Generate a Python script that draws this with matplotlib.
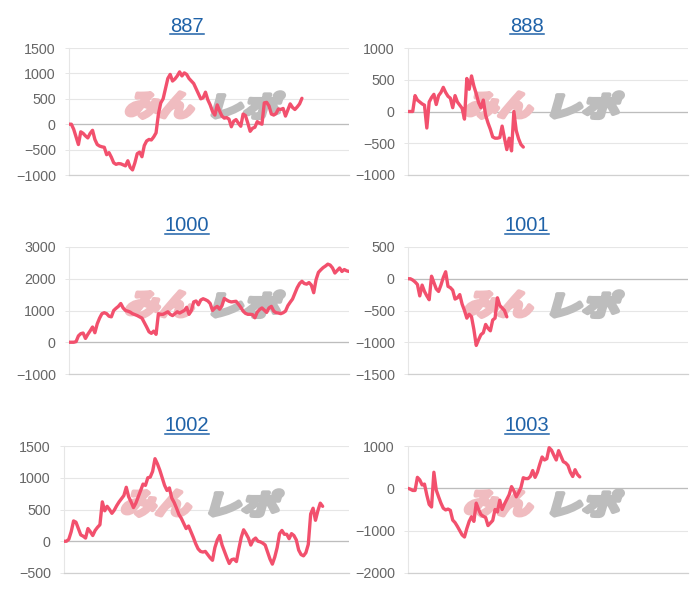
import numpy as np
import matplotlib
matplotlib.use('Agg')
from matplotlib import pyplot as plt
from matplotlib.lines import Line2D
from matplotlib.patches import PathPatch
from matplotlib.textpath import TextPath
from matplotlib.font_manager import FontProperties
import matplotlib.transforms as mtransforms

# number of day slots on the shared x axis
N_DAYS = 120

TITLES = ['887', '888', '1000', '1001', '1002', '1003']

s887 = [0, 0, -100, -250, -400, -150, -180, -230, -270, -180,
        -120, -300, -400, -430, -445, -455, -600, -560, -650, -760,
        -790, -775, -780, -800, -820, -720, -850, -900, -760, -580,
        -550, -640, -420, -330, -300, -310, -250, -170, 200, 420,
        500, 700, 900, 980, 850, 890, 950, 1030, 950, 1010,
        980, 900, 850, 800, 700, 600, 500, 520, 630, 480,
        380, 250, 180, 380, 260, 160, 120, 130, 100, -50,
        60, 90, 20, -40, 200, 170, 20, -140, -80, -60,
        50, 20, 0, 420, 430, 360, 200, 180, 210, 300,
        290, 310, 160, 280, 400, 330, 290, 340, 400, 510]

s888 = [0, 0, 0, 250, 180, 150, 120, 100, -260, 150,
        220, 270, 110, 250, 300, 380, 300, 240, 210, 60,
        250, 150, 100, 50, -120, 520, 350, 560, 400, 280,
        140, 60, 180, -60, -180, -280, -400, -420, -420, -410,
        -230, -420, -600, -420, -620, 0, -300, -430, -520, -560]

s1000 = [0, 0, 0, 20, 200, 270, 290, 120, 250, 360,
         480, 300, 580, 760, 900, 930, 900, 820, 800, 1000,
         1070, 1130, 1220, 1080, 1000, 980, 950, 900, 870, 840,
         800, 760, 620, 480, 330, 280, 350, 250, 900, 880,
         880, 920, 960, 880, 840, 900, 960, 920, 960, 1000,
         1100, 880, 1000, 1270, 1300, 1180, 1330, 1370, 1340, 1300,
         1220, 1000, 1080, 1130, 1040, 1150, 1380, 1330, 1290, 1270,
         1280, 1290, 1200, 1100, 980, 910, 880, 880, 870, 770,
         950, 1030, 1080, 1010, 940, 1080, 1130, 980, 930, 920,
         900, 930, 980, 1150, 1260, 1360, 1540, 1720, 1850, 1920,
         1850, 1830, 1880, 1800, 1560, 1970, 2200, 2280, 2350, 2400,
         2460, 2430, 2340, 2180, 2260, 2340, 2230, 2290, 2250, 2230]

s1001 = [0, 0, -20, -50, -90, -270, -100, -200, -270, -330,
         40, -60, -160, -200, -100, 20, 110, -120, -140, -180,
         -320, -300, -250, -400, -500, -620, -560, -600, -800, -1050,
         -960, -880, -850, -720, -780, -820, -650, -620, -300, -420,
         -460, -500, -600]

s1002 = [0, 0, 30, 150, 320, 300, 200, 100, 80, 50,
         200, 150, 90, 170, 220, 260, 620, 480, 550, 500,
         440, 490, 560, 620, 670, 720, 850, 700, 620, 530,
         600, 700, 800, 900, 880, 1000, 1010, 1100, 1300, 1220,
         1120, 1000, 880, 800, 840, 680, 610, 520, 420, 360,
         280, 200, 240, 150, 60, -40, -120, -160, -170, -160,
         -210, -260, -300, -100, 20, 90, -60, -160, -260, -350,
         -290, -280, -320, -120, 60, 180, 120, 50, -60, 20,
         50, 0, -10, -30, -60, -170, -280, -360, -250, -100,
         120, 170, 110, 110, 40, 120, 90, 20, -140, -210,
         -230, -180, -50, 430, 520, 330, 480, 600, 550]

s1003 = [0, -20, -50, -50, 260, 200, 80, 100, -160, -380,
         -440, 380, -40, -200, -350, -470, -510, -490, -520, -750,
         -810, -900, -1000, -1100, -1150, -950, -780, -670, -780, -350,
         -500, -620, -660, -690, -880, -820, -760, -500, -560, -280,
         -500, -370, -260, -150, 40, -60, -200, -100, 20, 250,
         230, 230, 280, 420, 260, 380, 570, 740, 670, 700,
         960, 900, 780, 670, 890, 760, 630, 600, 540, 380,
         280, 440, 330, 270]

SERIES = [s887, s888, s1000, s1001, s1002, s1003]
YLIMS = [(-1000, 1500, 500), (-1000, 1000, 500), (-1000, 3000, 1000),
         (-1500, 500, 500), (-500, 1500, 500), (-2000, 1000, 1000)]

# axes boxes in pixels: left, top, width, height
BOXES = [(69, 48, 280, 127), (408, 48, 280, 127),
         (69, 247, 280, 127), (408, 247, 280, 127),
         (64, 446, 285, 127), (408, 446, 280, 127)]
TITLE_X = [187, 527]
TITLE_BASE = [31.5, 231.5, 431]

W, H = 700, 600
LINE_COLOR = '#f2506d'
GRID = '#e6e6e6'
LABEL = '#666666'
LINK = '#1f62a8'

plt.rcParams['font.family'] = ['Liberation Sans', 'DejaVu Sans']
jp = FontProperties(family='Noto Sans CJK JP', weight='bold')


def watermark(ax, text, x0, x1, y0, y1, color, box):
    tp = TextPath((0, 0), text, size=1, prop=jp)
    ext = tp.get_extents()
    k = np.tan(np.radians(16)) * box[3] / box[2]
    shear = mtransforms.Affine2D(np.array([[1, k, 0], [0, 1, 0], [0, 0, 1]], dtype=float))
    tr = (mtransforms.Affine2D().translate(-ext.x0, -ext.y0)
          .scale(1 / ext.width, 1 / ext.height)
          .scale(x1 - x0 - k * (y1 - y0), y1 - y0)
          + shear
          + mtransforms.Affine2D().translate(x0, y0)
          + ax.transAxes)
    # thick outline in the same colour makes the glyphs look like the heavy logo
    ax.add_patch(PathPatch(tp, transform=tr, facecolor=color, edgecolor=color,
                           lw=3.2, joinstyle='round', zorder=1.5, clip_on=False))


fig = plt.figure(figsize=(W / 100, H / 100), dpi=100)

titles = []
for i, (name, vals, (lo, hi, step), box) in enumerate(zip(TITLES, SERIES, YLIMS, BOXES)):
    l, t, w, h = box
    ax = fig.add_axes([l / W, 1 - (t + h) / H, w / W, h / H])
    ax.set_axisbelow(True)
    ax.plot(np.arange(len(vals)), vals, color=LINE_COLOR, lw=2.4,
            solid_joinstyle='round', solid_capstyle='round', zorder=3)
    ax.set_xlim(0, N_DAYS - 1)
    ax.set_ylim(lo, hi)
    ax.set_yticks(np.arange(lo, hi + 1, step))
    ax.set_xticks([])
    ax.yaxis.grid(True, color=GRID, lw=0.8)
    ax.axhline(0, color='#bdbdbd', lw=0.9, zorder=1)
    for s in ['top', 'right']:
        ax.spines[s].set_visible(False)
    ax.spines['left'].set_color(GRID)
    ax.spines['left'].set_linewidth(0.8)
    ax.spines['bottom'].set_color('#d0d0d0')
    ax.spines['bottom'].set_linewidth(0.9)
    ax.tick_params(axis='y', length=3, width=0.7, color=GRID, pad=6.5,
                   labelsize=10.3, labelcolor=LABEL)
    watermark(ax, 'みん', 0.20, 0.46, 0.45, 0.65, '#f0bcc0', box)
    watermark(ax, 'レポ', 0.51, 0.77, 0.45, 0.65, '#bdbdbd', box)

    tx = TITLE_X[i % 2]
    ty = TITLE_BASE[i // 2]
    titles.append((fig.text(tx / W, 1 - ty / H, name, ha='center', va='baseline',
                            fontsize=14.5, color=LINK), ty))

# underline the titles like links
fig.canvas.draw()
for txt, ty in titles:
    bb = txt.get_window_extent()
    yy = 1 - (ty + 2.5) / H
    fig.add_artist(Line2D([bb.x0 / W, bb.x1 / W], [yy, yy], color=LINK, lw=1.1,
                          transform=fig.transFigure))

fig.savefig('out.png', dpi=100)
